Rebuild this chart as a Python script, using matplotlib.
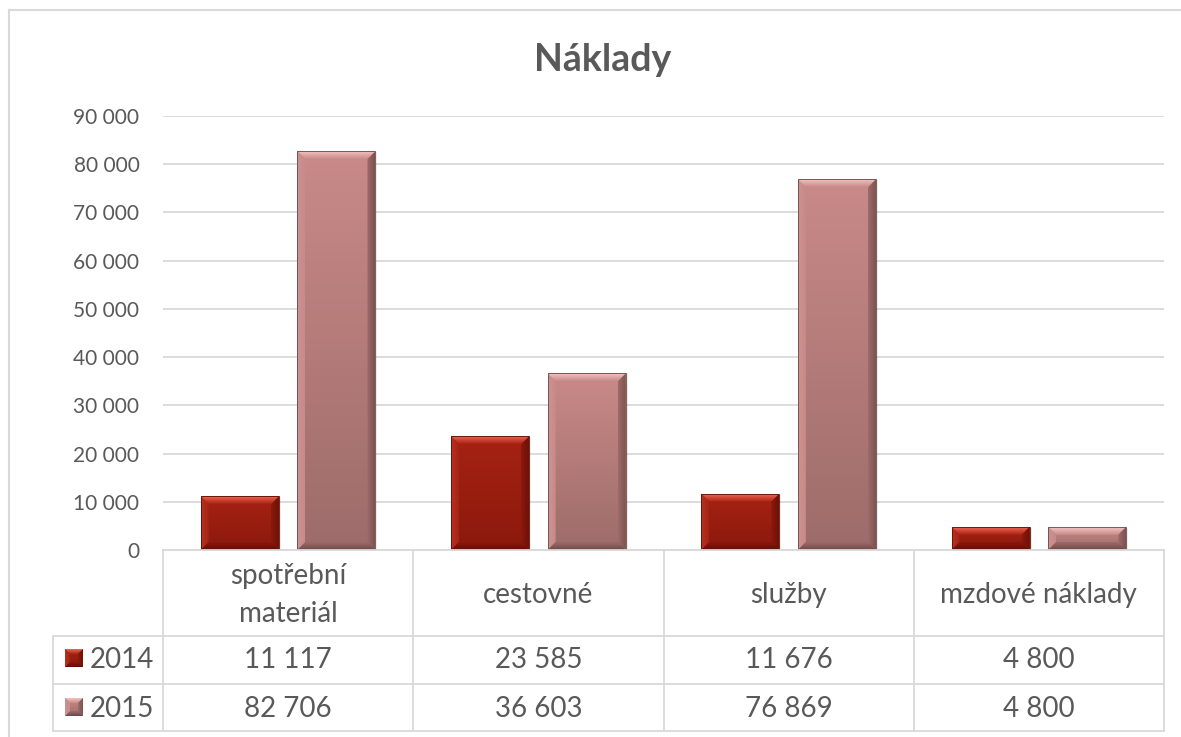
import matplotlib
matplotlib.use("Agg")
import matplotlib.pyplot as plt
import numpy as np
from matplotlib.patches import Rectangle, Polygon
from matplotlib.colors import LinearSegmentedColormap
from matplotlib.lines import Line2D

# ---------------- data ----------------
title = "Náklady"
categories = ["spotřební\nmateriál", "cestovné", "služby", "mzdové náklady"]
series_names = ["2014", "2015"]
values_2014 = [11117, 23585, 11676, 4800]
values_2015 = [82706, 36603, 76869, 4800]
y_ticks = [0, 10000, 20000, 30000, 40000, 50000, 60000, 70000, 80000, 90000]

# ---------------- style ----------------
plt.rcParams['font.family'] = ['Lato', 'DejaVu Sans']
TEXT = '#595959'
GRID = '#D9D9D9'

# colours per series: face top, face bottom, top bevel, left bevel, right bevel, bottom bevel
STY = {
    "2014": dict(top='#A62213', bot='#8B190D', hi='#F26452', left='#B83322', right='#6E1107', low='#5E0E06'),
    "2015": dict(top='#C98A88', bot='#9D6C6A', hi='#F2C4C2', left='#C99391', right='#7C5250', low='#6E4846'),
}

W, H = 1181, 737
fig = plt.figure(figsize=(W / 100, H / 100), dpi=100)


def fx(px):
    return px / W


def fy(py):
    return 1 - py / H


# chart border
fig.add_artist(Line2D([fx(9), fx(9)], [fy(10), 0], transform=fig.transFigure, color=GRID, lw=1.5))
fig.add_artist(Line2D([fx(9), 1], [fy(10), fy(10)], transform=fig.transFigure, color=GRID, lw=1.5))

AX_L, AX_R, AX_T, AX_B = 163, 1164, 116, 550
ax = fig.add_axes([fx(AX_L), fy(AX_B), fx(AX_R) - fx(AX_L), fy(AX_T) - fy(AX_B)])
ax.set_xlim(-0.5, len(categories) - 0.5)
ax.set_ylim(0, 90000)
for s in ax.spines.values():
    s.set_visible(False)
ax.set_xticks([])
ax.set_yticks(y_ticks)
ax.set_yticklabels([f"{v:,}".replace(",", " ") for v in y_ticks])
ax.tick_params(axis='y', length=0, pad=17, labelsize=15, labelcolor=TEXT)
ax.yaxis.grid(True, color=GRID, lw=1.3)
ax.set_axisbelow(True)

px_x = (len(categories)) / (AX_R - AX_L)   # data units per pixel (x)
px_y = 90000 / (AX_B - AX_T)               # data units per pixel (y)


def grad_fill(a, poly_pts, c_start, c_end, direction, z):
    """Fill polygon with linear gradient. direction: 'down','up','right','left' (from c_start to c_end)."""
    poly = Polygon(poly_pts, closed=True, fc='none', ec='none', transform=a.transData)
    a.add_patch(poly)
    xs = [p[0] for p in poly_pts]
    ys = [p[1] for p in poly_pts]
    cmap = LinearSegmentedColormap.from_list('g', [c_start, c_end])
    g = np.linspace(0, 1, 128)
    if direction == 'down':
        arr = g.reshape(-1, 1); origin = 'upper'
    elif direction == 'up':
        arr = g.reshape(-1, 1); origin = 'lower'
    elif direction == 'right':
        arr = g.reshape(1, -1); origin = 'upper'
    else:
        arr = g[::-1].reshape(1, -1); origin = 'upper'
    im = a.imshow(arr, extent=[min(xs), max(xs), min(ys), max(ys)], cmap=cmap, vmin=0, vmax=1,
                  aspect='auto', origin=origin, zorder=z, interpolation='bilinear')
    im.set_clip_path(poly)


def bevel_box(a, x0, y0, x1, y1, st, bx, by, z=3):
    h = y1 - y0
    by = min(by, h / 2.2)
    bx = min(bx, (x1 - x0) / 2.2)
    # face gradient
    grad_fill(a, [(x0, y0), (x1, y0), (x1, y1), (x0, y1)], st['top'], st['bot'], 'down', z)
    # top bevel
    grad_fill(a, [(x0, y1), (x1, y1), (x1 - bx, y1 - by), (x0 + bx, y1 - by)], st['hi'], st['top'], 'down', z + 0.1)
    # left bevel
    grad_fill(a, [(x0, y0), (x0, y1), (x0 + bx, y1 - by), (x0 + bx, y0 + by)], st['left'], st['top'], 'right', z + 0.1)
    # right bevel
    grad_fill(a, [(x1, y0), (x1, y1), (x1 - bx, y1 - by), (x1 - bx, y0 + by)], st['right'], st['bot'], 'left', z + 0.1)
    # bottom bevel
    grad_fill(a, [(x0, y0), (x1, y0), (x1 - bx, y0 + by), (x0 + bx, y0 + by)], st['low'], st['bot'], 'up', z + 0.1)
    a.add_patch(Rectangle((x0, y0), x1 - x0, h, fc='none', ec=st['low'], lw=0.6, zorder=z + 0.2))


bar_w = 0.312
offsets = [-0.193, 0.193]
series_vals = [values_2014, values_2015]
xs = np.arange(len(categories))
for name, vals, off in zip(series_names, series_vals, offsets):
    st = STY[name]
    for xi, v in zip(xs, vals):
        xc = xi + off
        # soft shadow
        ax.add_patch(Rectangle((xc - bar_w / 2 + 2 * px_x, -1 * px_y), bar_w, v, fc='#000000',
                               alpha=0.08, ec='none', zorder=2.5))
        bevel_box(ax, xc - bar_w / 2, 0, xc + bar_w / 2, v, st, 8 * px_x, 8 * px_y)

ax.set_xlim(-0.5, len(categories) - 0.5)
ax.set_ylim(0, 90000)

# title
fig.text(fx(603), fy(71), title, ha='center', va='baseline', fontsize=27, fontweight='bold', color=TEXT)

# ---------------- data table ----------------
T_L, T_HDR, T_R1, T_R2, T_B = 53, 550, 636, 684, 731
tax = fig.add_axes([fx(T_L), fy(T_B), fx(AX_R) - fx(T_L), fy(T_HDR) - fy(T_B)])
col_w = (AX_R - AX_L) / len(categories)
x_left = -0.5 - (AX_L - T_L) / col_w
tax.set_xlim(x_left, len(categories) - 0.5)
tax.set_ylim(T_B, T_HDR)
tax.axis('off')

lw = 1.3
kw = dict(color=GRID, lw=lw, clip_on=False, solid_capstyle='projecting')
tax.plot([-0.5, len(categories) - 0.5], [T_HDR, T_HDR], **kw)
for yy in (T_R1, T_R2, T_B):
    tax.plot([x_left, len(categories) - 0.5], [yy, yy], **kw)
for i in range(len(categories) + 1):
    tax.plot([i - 0.5, i - 0.5], [T_HDR, T_B], **kw)
tax.plot([x_left, x_left], [T_R1, T_B], **kw)

FS = 20
# category header
for i, cat in enumerate(categories):
    lines = cat.split("\n")
    n = len(lines)
    for j, ln in enumerate(lines):
        base = 602.5 - (n - 1) * 19 + j * 38
        tax.text(i, base, ln, ha='center', va='baseline', fontsize=FS, color=TEXT)

row_base = [668, 717]
row_center = [658, 707]
key_px = 18
for r, (name, vals) in enumerate(zip(series_names, series_vals)):
    for i, v in enumerate(vals):
        tax.text(i, row_base[r], f"{v:,}".replace(",", " "), ha='center', va='baseline',
                 fontsize=FS, color=TEXT)
    # legend key
    kx0 = x_left + (65 - T_L) / col_w
    kx1 = kx0 + key_px / col_w
    ky0 = row_center[r] + key_px / 2
    ky1 = row_center[r] - key_px / 2
    # in tax, y is inverted (pixels downward); bevel_box expects y0 < y1 in data; use inverted values
    st = STY[name]
    kb = 5
    # draw with explicit polygons (y axis inverted: smaller value is top)
    x0, x1 = kx0, kx1
    yt, yb = ky1, ky0
    bx = kb / col_w
    grad_fill(tax, [(x0, yb), (x1, yb), (x1, yt), (x0, yt)], st['top'], st['bot'], 'up', 3)
    grad_fill(tax, [(x0, yt), (x1, yt), (x1 - bx, yt + kb), (x0 + bx, yt + kb)], st['hi'], st['top'], 'up', 3.1)
    grad_fill(tax, [(x0, yb), (x1, yb), (x1 - bx, yb - kb), (x0 + bx, yb - kb)], st['low'], st['bot'], 'down', 3.1)
    grad_fill(tax, [(x0, yt), (x0, yb), (x0 + bx, yb - kb), (x0 + bx, yt + kb)], st['left'], st['top'], 'right', 3.1)
    grad_fill(tax, [(x1, yt), (x1, yb), (x1 - bx, yb - kb), (x1 - bx, yt + kb)], st['right'], st['bot'], 'left', 3.1)
    tax.text(x_left + (90 - T_L) / col_w, row_base[r], name, ha='left', va='baseline', fontsize=FS, color=TEXT)

tax.set_xlim(x_left, len(categories) - 0.5)
tax.set_ylim(T_B, T_HDR)

fig.savefig("out.png", dpi=100)
